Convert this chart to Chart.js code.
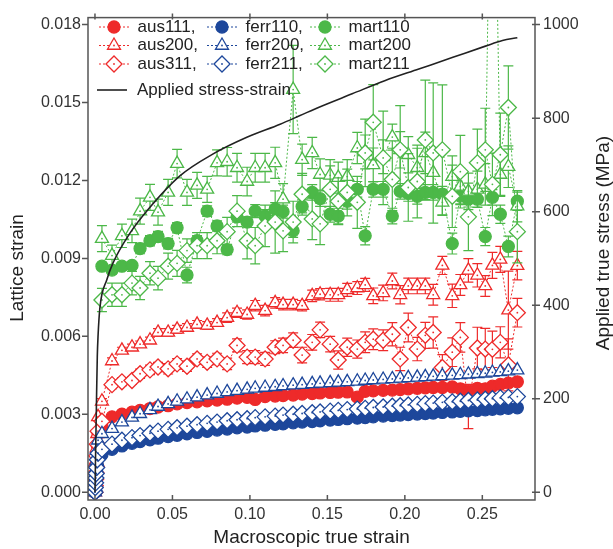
<!DOCTYPE html>
<html>
<head>
<meta charset="utf-8">
<title>Lattice strain vs macroscopic strain</title>
<script src="https://cdn.jsdelivr.net/npm/chart.js@4.4.0/dist/chart.umd.min.js"></script>
<style>
  html, body { margin: 0; padding: 0; background: #fff; }
  #wrap { width: 613px; height: 549px; }
</style>
</head>
<body>
<div id="wrap"><canvas id="latticechart" width="613" height="549"></canvas></div>
<script>
"use strict";

/*----------------------------------------*/
/*  data (lattice strains in units of 1e-3)
/*----------------------------------------*/
// macroscopic true strain of each measurement (first 8 = elastic loading)
var macroStrain = [0, 0.0002, 0.0004, 0.0006, 0.0008, 0.0011, 0.0015, 0.0020,
	0.0045, 0.0110, 0.0174, 0.0239, 0.0291, 0.0355, 0.0407, 0.0472, 0.0530, 0.0594,
	0.0659, 0.0724, 0.0788, 0.0853, 0.0917, 0.0982, 0.1034, 0.1098, 0.1163, 0.1214,
	0.1279, 0.1337, 0.1402, 0.1453, 0.1518, 0.1570, 0.1628, 0.1693, 0.1744, 0.1796,
	0.1860, 0.1919, 0.1970, 0.2022, 0.2080, 0.2132, 0.2183, 0.2242, 0.2306, 0.2358,
	0.2410, 0.2468, 0.2519, 0.2565, 0.2616, 0.2668, 0.2726];

var aus111 = [0, 0.25, 0.5, 0.75, 1.0, 1.35, 1.8, 2.25,
	2.55, 2.90, 3.00, 3.08, 3.15, 3.22, 3.28, 3.33, 3.40, 3.45,
	3.48, 3.52, 3.55, 3.58, 3.62, 3.65, 3.57, 3.68, 3.70, 3.72,
	3.74, 3.78, 3.80, 3.82, 3.84, 3.85, 3.86, 3.66, 3.88, 3.90,
	3.92, 3.93, 3.95, 3.98, 4.00, 4.02, 4.03, 4.03, 4.05, 3.98,
	3.90, 4.00, 3.98, 4.08, 4.15, 4.20, 4.25];
var aus200 = [0, 0.3, 0.6, 0.9, 1.25, 1.7, 2.25, 2.9,
	3.50, 5.05, 5.46, 5.58, 5.70, 5.85, 6.15, 6.15, 6.27, 6.34,
	6.46, 6.42, 6.53, 6.72, 6.91, 6.84, 7.18, 6.99, 7.29, 7.22,
	7.22, 7.18, 7.56, 7.62, 7.60, 7.60, 7.79, 7.86, 7.98, 7.56,
	7.67, 8.13, 7.60, 7.94, 7.94, 7.94, 7.60, 8.73, 7.56, 7.98,
	8.54, 8.35, 7.94, 8.73, 8.96, 7.01, 8.72];
var aus200Err = [0, 0, 0, 0, 0, 0, 0, 0,
	0.10, 0.12, 0.12, 0.12, 0.12, 0.12, 0.15, 0.15, 0.15, 0.15,
	0.15, 0.15, 0.15, 0.18, 0.18, 0.18, 0.20, 0.20, 0.20, 0.20,
	0.20, 0.20, 0.22, 0.22, 0.25, 0.25, 0.25, 0.25, 0.25, 0.30,
	0.30, 0.30, 0.35, 0.30, 0.30, 0.30, 0.40, 0.35, 0.45, 0.40,
	0.45, 0.45, 0.40, 0.50, 0.50, 1.50, 0.55];
var aus311 = [0, 0.25, 0.5, 0.75, 1.0, 1.4, 1.85, 2.35,
	2.73, 4.14, 4.25, 4.30, 4.56, 4.71, 4.82, 4.75, 4.94, 4.85,
	5.13, 5.00, 5.13, 4.94, 5.65, 5.20, 5.20, 5.13, 5.58, 5.65,
	5.85, 5.28, 5.77, 6.25, 5.70, 5.09, 5.58, 5.51, 5.77, 5.89,
	5.85, 6.08, 5.13, 6.34, 5.51, 6.04, 6.15, 4.80, 5.39, 5.96,
	3.30, 5.55, 5.51, 5.50, 5.77, 4.90, 6.91];
var aus311Err = [0, 0, 0, 0, 0, 0, 0, 0,
	0.15, 0.15, 0.15, 0.15, 0.18, 0.18, 0.18, 0.20, 0.20, 0.20,
	0.20, 0.20, 0.22, 0.22, 0.25, 0.25, 0.25, 0.25, 0.25, 0.28,
	0.28, 0.30, 0.30, 0.30, 0.30, 0.35, 0.35, 0.35, 0.40, 0.40,
	0.40, 0.45, 0.45, 0.55, 0.45, 0.50, 0.60, 0.50, 0.55, 0.57,
	0.85, 0.80, 0.80, 0.70, 0.60, 1.00, 0.55];

var ferr110 = [0, 0.15, 0.3, 0.45, 0.6, 0.8, 1.05, 1.3,
	1.45, 1.65, 1.78, 1.88, 1.95, 2.02, 2.08, 2.14, 2.19, 2.25,
	2.30, 2.34, 2.39, 2.43, 2.48, 2.51, 2.55, 2.58, 2.61, 2.63,
	2.67, 2.70, 2.72, 2.75, 2.78, 2.80, 2.83, 2.85, 2.87, 2.90,
	2.93, 2.95, 2.97, 2.99, 3.01, 3.03, 3.05, 3.07, 3.09, 3.11,
	3.13, 3.14, 3.17, 3.19, 3.21, 3.23, 3.25];
var ferr200 = [0, 0.22, 0.45, 0.68, 0.9, 1.2, 1.6, 2.0,
	2.25, 2.45, 2.70, 2.88, 3.02, 3.17, 3.30, 3.40, 3.50, 3.58,
	3.66, 3.74, 3.80, 3.86, 3.91, 3.96, 4.00, 4.03, 4.06, 4.09,
	4.12, 4.14, 4.17, 4.19, 4.21, 4.23, 4.25, 4.27, 4.30, 4.32,
	4.34, 4.36, 4.38, 4.40, 4.42, 4.44, 4.46, 4.48, 4.50, 4.52,
	4.54, 4.56, 4.58, 4.61, 4.63, 4.66, 4.70];
var ferr211 = [0, 0.18, 0.36, 0.55, 0.72, 0.95, 1.25, 1.5,
	1.65, 1.85, 2.00, 2.10, 2.18, 2.27, 2.35, 2.42, 2.48, 2.54,
	2.60, 2.65, 2.70, 2.75, 2.79, 2.83, 2.87, 2.90, 2.93, 2.97,
	3.00, 3.03, 3.06, 3.09, 3.12, 3.15, 3.18, 3.20, 3.23, 3.26,
	3.28, 3.31, 3.33, 3.36, 3.38, 3.41, 3.43, 3.46, 3.48, 3.50,
	3.53, 3.55, 3.58, 3.60, 3.63, 3.65, 3.68];

var mart110 = [null, null, null, null, null, null, null, null,
	8.70, 8.55, 8.70, 8.73, 9.38, 9.68, 9.84, 9.57, 10.18, 8.36,
	9.68, 10.82, 10.25, 9.34, 10.60, 10.40, 10.82, 10.63, 10.90, 10.80,
	10.06, 11.00, 11.54, 11.30, 10.70, 10.63, 11.20, 11.66, 9.87, 11.66,
	11.66, 10.63, 11.58, 11.50, 11.39, 11.54, 11.54, 11.47, 9.57, 11.40,
	11.28, 11.28, 9.84, 11.35, 10.70, 9.46, 11.20];
var mart110Err = [0, 0, 0, 0, 0, 0, 0, 0,
	0.15, 0.15, 0.15, 0.15, 0.20, 0.20, 0.20, 0.20, 0.20, 0.30,
	0.20, 0.20, 0.20, 0.20, 0.20, 0.20, 0.25, 0.25, 0.25, 0.25,
	0.25, 0.25, 0.30, 0.30, 0.30, 0.30, 0.30, 0.30, 0.35, 0.30,
	0.30, 0.30, 0.30, 0.30, 0.30, 0.30, 0.30, 0.30, 0.40, 0.30,
	0.30, 0.30, 0.35, 0.30, 0.35, 0.40, 0.35];
var mart200 = [null, null, null, null, null, null, null, null,
	9.76, 9.11, 9.87, 10.06, 10.82, 11.35, 10.78, 11.54, 12.65, 11.54,
	11.81, 11.66, 12.68, 12.72, 12.49, 11.96, 12.49, 12.49, 12.68, 11.28,
	15.50, 12.80, 13.06, 12.23, 12.20, 12.11, 12.15, 13.25, 13.10, 12.60,
	12.91, 13.67, 13.18, 12.99, 12.49, 13.06, 12.30, 11.16, 12.15, 11.77,
	11.58, 11.66, 11.85, 30.0, 12.23, 12.53, 11.01];
var mart200Err = [0, 0, 0, 0, 0, 0, 0, 0,
	0.50, 0.40, 0.45, 0.45, 0.50, 0.50, 0.50, 0.50, 0.55, 0.50,
	0.50, 0.50, 0.50, 0.55, 0.55, 0.55, 0.55, 0.55, 0.60, 0.60,
	1.70, 0.60, 0.60, 0.60, 0.60, 0.60, 0.65, 0.60, 0.65, 0.65,
	0.65, 0.50, 0.70, 0.70, 0.75, 0.80, 0.80, 0.50, 0.80, 0.70,
	0.70, 0.70, 0.80, 3.00, 0.80, 0.80, 0.60];
var mart211 = [null, null, null, null, null, null, null, null,
	7.40, 7.60, 7.60, 8.05, 7.86, 8.43, 8.24, 8.70, 8.81, 9.30,
	9.49, 9.49, 9.68, 10.03, 10.82, 9.68, 9.49, 10.25, 10.40, 10.06,
	10.40, 11.47, 10.52, 10.33, 11.66, 11.20, 11.54, 11.16, 13.06, 14.24,
	12.87, 12.04, 13.18, 11.73, 11.96, 13.56, 13.06, 13.18, 11.39, 12.34,
	10.60, 12.68, 13.18, 11.85, 12.99, 14.81, 10.03];
var mart211Err = [0, 0, 0, 0, 0, 0, 0, 0,
	0.45, 0.45, 0.45, 0.45, 0.45, 0.45, 0.45, 0.50, 0.50, 0.45,
	0.50, 0.50, 0.50, 0.55, 0.60, 0.70, 0.70, 0.80, 1.20, 0.80,
	0.80, 0.80, 0.80, 0.80, 0.90, 0.90, 0.90, 1.00, 1.30, 1.45,
	1.80, 1.20, 1.70, 1.30, 1.40, 2.30, 2.70, 2.50, 1.20, 1.40,
	1.30, 1.30, 1.60, 1.20, 1.60, 1.60, 1.20];

// applied true stress-strain curve (MPa)
var stressStrain = [0, 0.0005, 0.0010, 0.0015, 0.0020, 0.0032, 0.0077, 0.0116, 0.0226, 0.0336,
	0.0550, 0.0760, 0.0980, 0.1195, 0.1320, 0.1450, 0.1660, 0.1870, 0.2090, 0.2310,
	0.2520, 0.2630, 0.2726];
var trueStress = [0, 100, 200, 290, 335, 395, 455, 490, 554, 602,
	677, 723, 759, 787, 805, 824, 852, 880, 905, 930,
	954, 966, 972];

var xTicks = [0, 0.05, 0.10, 0.15, 0.20, 0.25];
var yTicks = [0, 0.003, 0.006, 0.009, 0.012, 0.015, 0.018];
var stressTicks = [0, 200, 400, 600, 800, 1000];

/*----------------------------------------*/
/*  styles
/*----------------------------------------*/
var FONT = "'Liberation Sans', Arial, Helvetica, sans-serif";
var RED = '#ee2a2a', BLUE = '#1d479b', GREEN = '#4cb848';
var RADIUS = { circle: 6, triangle: 7.5, rectRot: 8 };

Chart.defaults.font.family = FONT;
Chart.defaults.color = '#333';

function series(label, vals, errs, color, style, filled, order) {
	var pts = [];
	macroStrain.forEach(function (x, i) {
		if (vals[i] === null) return;
		pts.push({ x: x, y: vals[i] / 1000, e: errs ? errs[i] / 1000 : 0 });
	});
	return {
		label: label,
		data: pts,
		order: order,
		yAxisID: 'y',
		borderColor: color,
		borderWidth: 1,
		borderDash: [2, 2],
		fill: false,
		pointStyle: style,
		pointRadius: RADIUS[style],
		pointBorderWidth: 1.3,
		pointBorderColor: color,
		pointBackgroundColor: filled ? color : '#fff',
		hollow: !filled,
		errColor: color
	};
}

var stressPts = stressStrain.map(function (x, i) { return { x: x, y: trueStress[i] }; });

var datasets = [
	series('aus111', aus111, null, RED, 'circle', true, 9),
	series('aus200', aus200, aus200Err, RED, 'triangle', false, 8),
	series('aus311', aus311, aus311Err, RED, 'rectRot', false, 7),
	series('ferr110', ferr110, null, BLUE, 'circle', true, 6),
	series('ferr200', ferr200, null, BLUE, 'triangle', false, 5),
	series('ferr211', ferr211, null, BLUE, 'rectRot', false, 4),
	series('mart110', mart110, mart110Err, GREEN, 'circle', true, 3),
	series('mart200', mart200, mart200Err, GREEN, 'triangle', false, 2),
	series('mart211', mart211, mart211Err, GREEN, 'rectRot', false, 1),
	{
		label: 'Applied stress-strain',
		data: stressPts,
		order: 0,
		yAxisID: 'y2',
		borderColor: '#222',
		borderWidth: 1.6,
		pointRadius: 0,
		fill: false,
		cubicInterpolationMode: 'monotone'
	}
];

/*----------------------------------------*/
/*  plugins: error bars, frame, legend
/*----------------------------------------*/
var errorBars = {
	id: 'errorBars',
	beforeDatasetDraw: function (chart, args) {
		var ds = chart.data.datasets[args.index];
		if (!ds.errColor) return;
		var ctx = chart.ctx, a = chart.chartArea;
		var sx = chart.scales.x, sy = chart.scales.y;
		ctx.save();
		ctx.beginPath();
		ctx.rect(a.left, a.top, a.right - a.left, a.bottom - a.top);
		ctx.clip();
		ctx.strokeStyle = ds.errColor;
		ctx.lineWidth = 1.2;
		ctx.beginPath();
		ds.data.forEach(function (p) {
			if (!p.e) return;
			var px = sx.getPixelForValue(p.x);
			var top = sy.getPixelForValue(p.y + p.e);
			var bot = sy.getPixelForValue(p.y - p.e);
			ctx.moveTo(px, top); ctx.lineTo(px, bot);
			ctx.moveTo(px - 5, top); ctx.lineTo(px + 5, top);
			ctx.moveTo(px - 5, bot); ctx.lineTo(px + 5, bot);
		});
		ctx.stroke();
		ctx.restore();
	},
	afterDatasetDraw: function (chart, args) {
		var ds = chart.data.datasets[args.index];
		if (!ds.hollow) return;
		var ctx = chart.ctx;
		ctx.save();
		ctx.fillStyle = ds.errColor;
		args.meta.data.forEach(function (el) {
			ctx.beginPath();
			ctx.arc(el.x, el.y, 0.9, 0, Math.PI * 2);
			ctx.fill();
		});
		ctx.restore();
	}
};

var frame = {
	id: 'frame',
	afterDraw: function (chart) {
		var ctx = chart.ctx, a = chart.chartArea;
		var sx = chart.scales.x, sy = chart.scales.y, s2 = chart.scales.y2;
		ctx.save();
		ctx.strokeStyle = '#555';
		ctx.lineWidth = 1.5;
		ctx.strokeRect(a.left, a.top, a.right - a.left, a.bottom - a.top);
		ctx.beginPath();
		xTicks.forEach(function (v) {
			var px = sx.getPixelForValue(v);
			ctx.moveTo(px, a.bottom); ctx.lineTo(px, a.bottom - 5);
			ctx.moveTo(px, a.top - 4); ctx.lineTo(px, a.top + 2);
		});
		yTicks.forEach(function (v) {
			var py = sy.getPixelForValue(v);
			ctx.moveTo(a.left - 6, py); ctx.lineTo(a.left, py);
		});
		stressTicks.forEach(function (v) {
			var py = s2.getPixelForValue(v);
			ctx.moveTo(a.right - 3, py); ctx.lineTo(a.right + 5, py);
		});
		ctx.stroke();

		// vertical axis titles (both read bottom-to-top)
		ctx.fillStyle = '#222';
		ctx.font = '19px ' + FONT;
		ctx.textAlign = 'center';
		ctx.textBaseline = 'middle';
		ctx.translate(18, 268);
		ctx.rotate(-Math.PI / 2);
		ctx.fillText('Lattice strain', 0, 0);
		ctx.setTransform(1, 0, 0, 1, 0, 0);
		ctx.translate(604, 243);
		ctx.rotate(-Math.PI / 2);
		ctx.fillText('Applied true stress (MPa)', 0, 0);
		ctx.restore();
	}
};

var legendX = [114, 222, 325];
var legendY = [27, 45.5, 64];

var panelLegend = {
	id: 'panelLegend',
	afterDraw: function (chart) {
		var ctx = chart.ctx;
		ctx.save();
		ctx.font = '17px ' + FONT;
		ctx.textBaseline = 'middle';
		ctx.textAlign = 'left';
		chart.data.datasets.forEach(function (ds, i) {
			if (!ds.errColor) return;
			var col = Math.floor(i / 3), row = i % 3;
			var cx = legendX[col], cy = legendY[row];
			ctx.strokeStyle = ds.errColor;
			ctx.lineWidth = 1;
			ctx.setLineDash([2, 2]);
			ctx.beginPath();
			ctx.moveTo(cx - 15, cy); ctx.lineTo(cx + 15, cy);
			ctx.stroke();
			ctx.setLineDash([]);
			ctx.fillStyle = ds.pointBackgroundColor;
			ctx.lineWidth = 1.3;
			Chart.helpers.drawPoint(ctx, { pointStyle: ds.pointStyle, radius: ds.pointRadius, borderWidth: 1.3, rotation: 0 }, cx, cy);
			if (ds.hollow) {
				ctx.fillStyle = ds.errColor;
				ctx.beginPath();
				ctx.arc(cx, cy, 0.9, 0, Math.PI * 2);
				ctx.fill();
			}
			ctx.fillStyle = '#222';
			ctx.fillText(ds.label + (col < 2 ? ',' : ''), cx + 23.5, cy);
		});
		var st = chart.data.datasets[9];
		ctx.strokeStyle = st.borderColor;
		ctx.lineWidth = st.borderWidth;
		ctx.beginPath();
		ctx.moveTo(97, 90); ctx.lineTo(127, 90);
		ctx.stroke();
		ctx.fillStyle = '#222';
		ctx.fillText(st.label, 137, 90);
		ctx.restore();
	}
};

/*----------------------------------------*/
/*  chart
/*----------------------------------------*/
var ctx = document.getElementById('latticechart');
var latticechart = new Chart(ctx, {
	type: 'line',
	data: { datasets: datasets },
	plugins: [errorBars, frame, panelLegend],
	options: {
		responsive: false,
		animation: false,
		layout: { padding: { top: 13, left: 0, right: 0, bottom: 0 } },
		plugins: {
			legend: { display: false },
			tooltip: { enabled: false }
		},
		scales: {
			x: {
				type: 'linear',
				position: 'bottom',
				min: -0.0045,
				max: 0.284,
				afterBuildTicks: function (s) { s.ticks = xTicks.map(function (v) { return { value: v }; }); },
				afterFit: function (s) { s.height = 49; },
				grid: { display: false, drawTicks: false },
				border: { display: false },
				ticks: {
					padding: 5,
					maxRotation: 0,
					color: '#333',
					font: { size: 16 },
					callback: function (v) { return v.toFixed(2); }
				},
				title: {
					display: true,
					text: 'Macroscopic true strain',
					color: '#222',
					font: { size: 19 },
					padding: { top: 0, bottom: 0 }
				}
			},
			y: {
				type: 'linear',
				position: 'left',
				min: -0.0003,
				max: 0.01827,
				afterBuildTicks: function (s) { s.ticks = yTicks.map(function (v) { return { value: v }; }); },
				afterFit: function (s) { s.width = 88; },
				grid: { display: false, drawTicks: false },
				border: { display: false },
				ticks: {
					padding: 7,
					color: '#333',
					font: { size: 16 },
					callback: function (v) { return v.toFixed(3); }
				}
			},
			y2: {
				type: 'linear',
				position: 'right',
				min: -16.7,
				max: 1015,
				afterBuildTicks: function (s) { s.ticks = stressTicks.map(function (v) { return { value: v }; }); },
				afterFit: function (s) { s.width = 78; },
				grid: { display: false, drawTicks: false },
				border: { display: false },
				ticks: {
					padding: 8,
					color: '#333',
					font: { size: 16 },
					callback: function (v) { return String(v); }
				}
			}
		}
	}
});
</script>
</body>
</html>
